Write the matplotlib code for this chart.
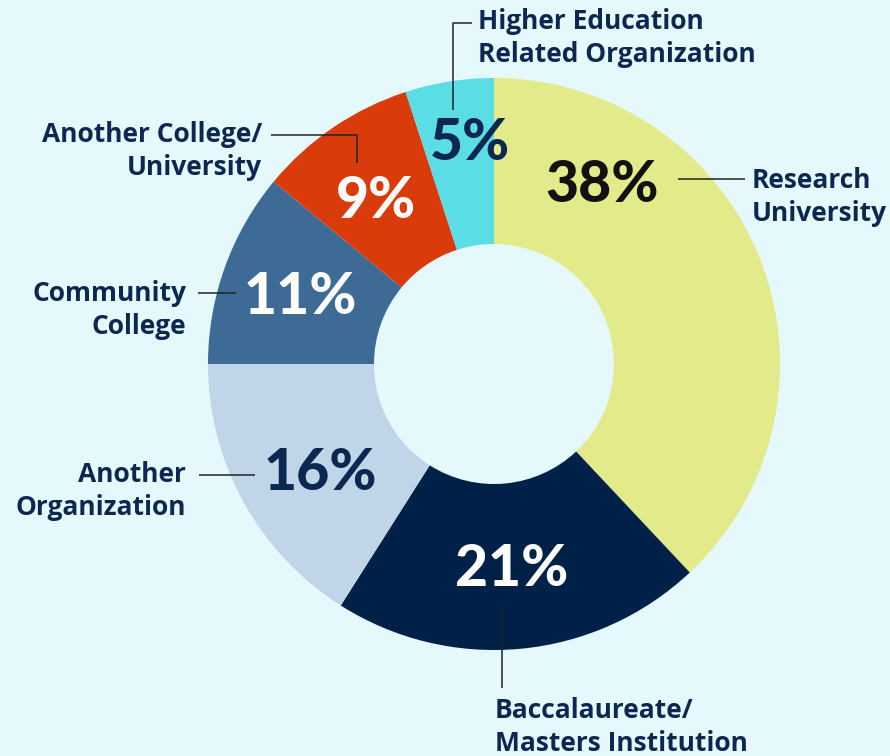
import matplotlib.pyplot as plt

W, H = 890, 756

labels = [
    "Research\nUniversity",
    "Baccalaureate/\nMasters Institution",
    "Another\nOrganization",
    "Community\nCollege",
    "Another College/\nUniversity",
    "Higher Education\nRelated Organization",
]
values = [38, 21, 16, 11, 9, 5]
colors = ["#e3ea8a", "#002147", "#c0d6e8", "#3e6a96", "#d93c0a", "#5bdde5"]
pct_colors = ["#111111", "#ffffff", "#0d2850", "#ffffff", "#ffffff", "#0d2850"]

# layout in pixel coords (y from top)
pct_pos = [(602, 186), (512, 570), (320, 474), (300, 298), (376, 201), (470, 143)]
label_pos = [(752, 197, "left"), (495, 727, "left"), (186, 491, "right"),
             (186, 310, "right"), (262, 151, "right"), (478, 38, "left")]
leaders = [
    [(678, 179), (745, 179)],
    [(502, 605), (502, 688)],
    [(199, 475), (255, 475)],
    [(198, 293), (236, 293)],
    [(271, 135), (357, 135), (357, 163)],
    [(453, 110), (453, 23), (472, 23)],
]

bg = "#e5f8fb"
text_col = "#0d2850"

fig = plt.figure(figsize=(W / 100, H / 100), dpi=100, facecolor=bg)
ax = fig.add_axes([0, 0, 1, 1])
ax.set_facecolor(bg)

ax.pie(values, colors=colors, startangle=90, counterclock=False,
       radius=286, center=(494, H - 364),
       wedgeprops=dict(width=166, linewidth=0))

ax.set_xlim(0, W)
ax.set_ylim(0, H)
ax.set_aspect("equal")
ax.axis("off")

for v, (px, py), c in zip(values, pct_pos, pct_colors):
    ax.text(px, H - py, f"{v}%", ha="center", va="center", color=c,
            fontsize=41, family="Lato", fontweight="black")

for lab, (px, py, ha) in zip(labels, label_pos):
    ax.text(px, H - py, lab, ha=ha, va="center", color=text_col,
            fontsize=19, family="Open Sans", fontweight="bold", linespacing=1.25)

for pts in leaders:
    xs = [p[0] for p in pts]
    ys = [H - p[1] for p in pts]
    ax.plot(xs, ys, color="#222222", lw=1.1, solid_capstyle="butt")

fig.savefig("out.png", dpi=100, facecolor=bg)
